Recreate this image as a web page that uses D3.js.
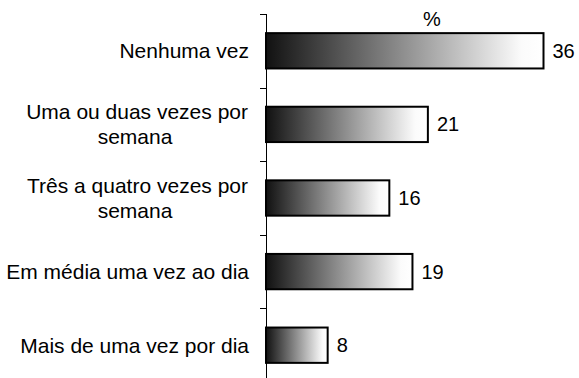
<!DOCTYPE html>
<html>
<head>
<meta charset="utf-8">
<script src="https://cdn.jsdelivr.net/npm/d3@7"></script>
<style>
  html, body { margin: 0; padding: 0; background: #fff; }
  svg { display: block; font-family: "Liberation Sans", Arial, sans-serif; }
</style>
</head>
<body>
<svg id="chart" width="579" height="378"></svg>
<script>
// Frequency categories (each label split into its display lines)
const categories = [
  ["Nenhuma vez"],
  ["Uma ou duas vezes por", "semana"],
  ["Três a quatro vezes por", "semana"],
  ["Em média uma vez ao dia"],
  ["Mais de uma vez por dia"]
];
const values = [36, 21, 16, 19, 8];
const unitLabel = "%";

const svg = d3.select("#chart");
const W = 579, H = 378;
const axisX = 266;

const x = d3.scaleLinear().domain([0, 36]).range([axisX, 543.5]);
const y = d3.scaleBand()
  .domain(d3.range(categories.length))
  .range([14, 382])
  .paddingInner(0.52)
  .paddingOuter(0.26);

// Horizontal black-to-white gradient, stretched over each bar
const defs = svg.append("defs");
const grad = defs.append("linearGradient")
  .attr("id", "barFill")
  .attr("x1", "0%").attr("x2", "100%").attr("y1", "0%").attr("y2", "0%");
grad.append("stop").attr("offset", "0%").attr("stop-color", "#111");
grad.append("stop").attr("offset", "92%").attr("stop-color", "#fbfbfb");
grad.append("stop").attr("offset", "100%").attr("stop-color", "#fff");

// Bars
svg.append("g").selectAll("rect")
  .data(values)
  .join("rect")
  .attr("x", x(0))
  .attr("y", (d, i) => y(i))
  .attr("width", d => x(d) - x(0))
  .attr("height", y.bandwidth())
  .attr("fill", "url(#barFill)")
  .attr("stroke", "#000")
  .attr("stroke-width", 2);

// Category axis: vertical line with ticks between the bands
const step = y.step();
const y0 = y.range()[0];
const axis = svg.append("g").attr("stroke", "#000").attr("stroke-width", 1);
axis.append("line")
  .attr("x1", axisX + 0.5).attr("x2", axisX + 0.5)
  .attr("y1", y0).attr("y2", H + 10);
axis.selectAll("line.tick")
  .data(d3.range(categories.length))
  .join("line")
  .attr("class", "tick")
  .attr("x1", axisX - 6).attr("x2", axisX + 0.5)
  .attr("y1", i => Math.round(y0 + i * step) + 0.5)
  .attr("y2", i => Math.round(y0 + i * step) + 0.5);

// Category labels
const labelSize = 21;
const valueSize = 20;
const labels = svg.append("g")
  .attr("font-size", labelSize)
  .attr("fill", "#000");
categories.forEach((lines, i) => {
  const cy = y(i) + y.bandwidth() / 2;
  if (lines.length === 1) {
    labels.append("text")
      .attr("x", 249)
      .attr("y", cy)
      .attr("dy", "0.35em")
      .attr("text-anchor", "end")
      .text(lines[0]);
  } else {
    labels.append("text")
      .attr("x", 248)
      .attr("y", cy - 12.5)
      .attr("dy", "0.35em")
      .attr("text-anchor", "end")
      .text(lines[0]);
    labels.append("text")
      .attr("x", 135)
      .attr("y", cy + 12.5)
      .attr("dy", "0.35em")
      .attr("text-anchor", "middle")
      .text(lines[1]);
  }
});

// Value labels
svg.append("g")
  .attr("font-size", valueSize)
  .selectAll("text")
  .data(values)
  .join("text")
  .attr("x", d => x(d) + 9)
  .attr("y", (d, i) => y(i) + y.bandwidth() / 2)
  .attr("dy", "0.35em")
  .text(d => d);

// Unit label above the bars
svg.append("text")
  .attr("x", 432)
  .attr("y", 19)
  .attr("dy", "0.35em")
  .attr("text-anchor", "middle")
  .attr("font-size", valueSize)
  .text(unitLabel);
</script>
</body>
</html>
